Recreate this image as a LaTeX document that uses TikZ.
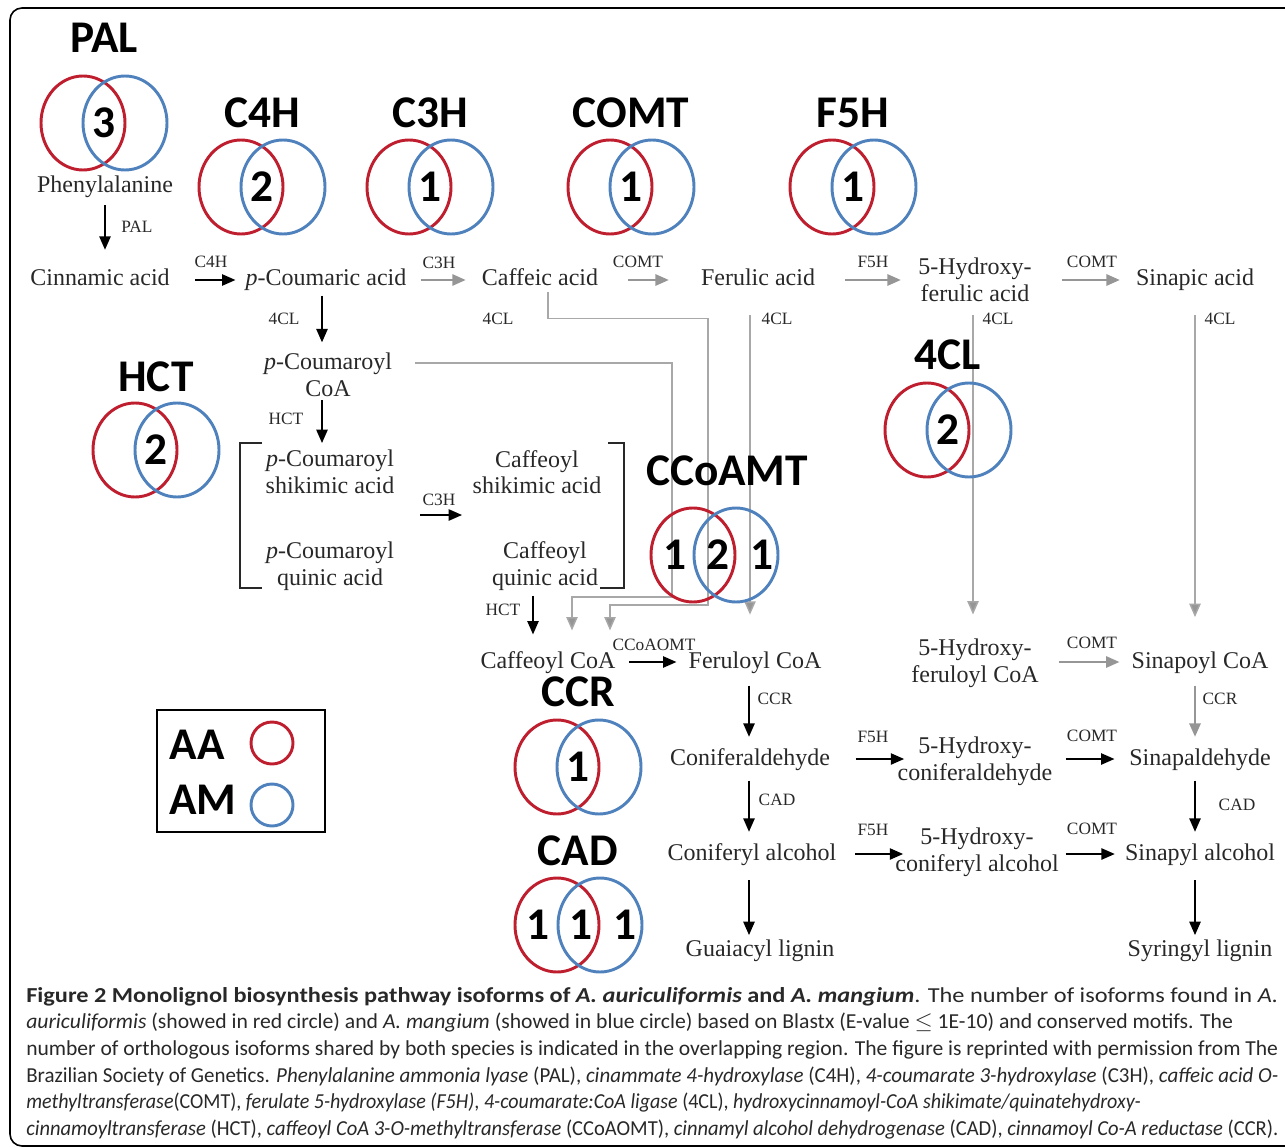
\documentclass[tikz,border=0pt]{standalone}
\usepackage{graphicx}
\usepackage{fontspec}
\setmainfont{Liberation Serif}
\newfontfamily\calfont{Carlito}
\usetikzlibrary{arrows.meta,positioning}

\definecolor{aared}{RGB}{190,30,45}
\definecolor{amblue}{RGB}{79,129,189}
\definecolor{linegray}{RGB}{168,168,168}
\definecolor{arrgray}{RGB}{150,150,150}
\definecolor{txtgray}{RGB}{40,40,40}

% one caption line squeezed to the width that it has in print
\newcommand{\capline}[2]{\resizebox{#1pt}{\height}{#2}}

\tikzset{
  met/.style={font=\fontsize{18}{20}\selectfont, text=txtgray, inner sep=0pt, text height=13pt, text depth=4pt},
  met2/.style={font=\fontsize{18}{20}\selectfont, text=txtgray, inner sep=0pt, align=center},
  enz/.style={font=\fontsize{13}{15}\selectfont, text=txtgray, inner sep=0pt},
  big/.style={font=\calfont\bfseries\fontsize{34}{36}\selectfont, inner sep=0pt},
  blk/.style={draw=black, line width=1.1pt, -{Triangle[length=10pt,width=8.5pt]}},
  garr/.style={draw=arrgray, line width=1.4pt, -{Triangle[length=10pt,width=8.5pt]}},
  gline/.style={draw=linegray, line width=1.1pt, -{Triangle[length=10pt,width=8.5pt,fill=arrgray]}},
  aacirc/.style={draw=aared, line width=2.2pt},
  amcirc/.style={draw=amblue, line width=2.2pt},
  caption/.style={font=\calfont\fontsize{16}{20}\selectfont, text=txtgray, inner sep=0pt, align=left}
}

\begin{document}
\begin{tikzpicture}[x=0.75pt,y=-0.75pt]
\useasboundingbox (0,0) rectangle (1285,1148);
\draw[line width=1.2pt, rounded corners=9] (10,8) rectangle (1300,1146);

% metabolites
\node[met] (phe) at (105,187) {Phenylalanine};
\node[met] (cinn) at (100,280) {Cinnamic acid};
\node[met] (pcoum) at (326,280) {\textit{p}-Coumaric acid};
\node[met] (caff) at (540,280) {Caffeic acid};
\node[met] (fer) at (758,280) {Ferulic acid};
\node[met2] (hfer) at (975,280) {5-Hydroxy-\\ferulic acid};
\node[met] (sinac) at (1195,280) {Sinapic acid};
\node[met2] (pcoa) at (328,375) {\textit{p}-Coumaroyl\\CoA};
\node[met2] (pshik) at (330,472) {\textit{p}-Coumaroyl\\shikimic acid};
\node[met2] (pquin) at (330,566) {\textit{p}-Coumaroyl\\quinic acid};
\node[met2] (cshik) at (537,472) {Caffeoyl\\shikimic acid};
\node[met2] (cquin) at (545,566) {Caffeoyl\\quinic acid};
\node[met] (caffcoa) at (548,662) {Caffeoyl CoA};
\node[met] (fercoa) at (755,662) {Feruloyl CoA};
\node[met2] (hfercoa) at (975,663) {5-Hydroxy-\\feruloyl CoA};
\node[met] (sincoa) at (1200,662) {Sinapoyl CoA};
\node[met] (conald) at (750,759) {Coniferaldehyde};
\node[met2] (hconald) at (975,761) {5-Hydroxy-\\coniferaldehyde};
\node[met] (sinald) at (1200,759) {Sinapaldehyde};
\node[met] (conalc) at (752,854) {Coniferyl alcohol};
\node[met2] (hconalc) at (977,852) {5-Hydroxy-\\coniferyl alcohol};
\node[met] (sinalc) at (1200,854) {Sinapyl alcohol};
\node[met] (guai) at (760,950) {Guaiacyl lignin};
\node[met] (syr) at (1200,950) {Syringyl lignin};

% enzyme labels on the arrows
\foreach \t/\x/\y [count=\i] in {PAL/137/227, C4H/211/262, C3H/439/263, COMT/638/262,
    F5H/873/262, COMT/1092/262, 4CL/284/319, 4CL/498/319, 4CL/777/319, 4CL/998/319,
    4CL/1220/319, HCT/286/419, C3H/439/500, HCT/503/610, CCoAOMT/654/645, COMT/1092/643,
    CCR/775/699, CCR/1220/699, F5H/873/737, COMT/1092/736, CAD/777/800, CAD/1237/805,
    F5H/873/830, COMT/1092/829}
  \node[enz] (enz\i) at (\x,\y) {\t};

% top row
\draw[blk, shorten <=5pt, shorten >=14pt] (phe.south) -- (phe.south |- cinn.north);
\draw[blk] ([xshift=19pt]cinn.east) -- ([xshift=-7.5pt]pcoum.west |- cinn.east);
\draw[garr] ([xshift=10.5pt]pcoum.east) -- ([xshift=-12pt]caff.west |- pcoum.east);
\draw[garr] ([xshift=22.5pt]caff.east) -- ([xshift=-24pt]fer.west |- caff.east);
\draw[garr] ([xshift=22.5pt]fer.east) -- ([xshift=-13pt]hfer.west |- fer.east);
\draw[garr] ([xshift=22.5pt]hfer.east |- sinac.west) -- ([xshift=-12pt]sinac.west);

% p-coumaric acid branch
\draw[blk, shorten <=3pt, shorten >=8pt] ([xshift=-3pt]pcoum.south) -- ([xshift=-3pt]pcoum.south |- pcoa.north);
\coordinate (brL) at (262,443);
\coordinate (brR) at (608,443);
\draw[blk, shorten <=2.5pt] ([xshift=-4.5pt]pcoa.south) -- ([xshift=-4.5pt]pcoa.south |- brL);
\draw[line width=1pt, txtgray] (brL) -- (240,443) -- (240,588) -- (262,588);
\draw[line width=1pt, txtgray] (brR) -- (624,443) -- (624,588) -- (600,588);
\coordinate (c3hA) at (420,515);
\coordinate (c3hB) at (462,515);
\draw[blk] (c3hA) -- (c3hB);
\draw[blk, shorten <=4pt, shorten >=12pt] ([xshift=-9pt]cquin.south) -- ([xshift=-9pt]cquin.south |- caffcoa.north);

% 4CL lines into the CoA esters
\draw[gline] ([xshift=17pt,yshift=9pt]pcoa.east) -| (672,597) -| ([xshift=18pt,yshift=15pt]caffcoa.north);
\draw[gline] ([xshift=6pt]caff.south) -- ++(0,27) -| (708,605) -| ([xshift=46.5pt,yshift=15pt]caffcoa.north);
\draw[gline, shorten <=17.8pt, shorten >=26.8pt] ([xshift=-6pt]fer.south) -- ([xshift=-6pt]fer.south |- fercoa.north);
\draw[gline, shorten <=9.7pt, shorten >=18pt] ([xshift=-1.5pt]hfer.south) -- ([xshift=-1.5pt]hfer.south |- hfercoa.north);
\draw[gline, shorten <=17.8pt, shorten >=25pt] (sinac.south) -- (sinac.south |- sincoa.north);

% CoA esters to lignin
\draw[blk] ([xshift=10pt]caffcoa.east) -- ([xshift=-9pt]fercoa.west |- caffcoa.east);
\draw[garr] ([xshift=15pt]hfercoa.east |- sincoa.west) -- ([xshift=-9pt]sincoa.west);
\draw[blk, shorten <=9pt, shorten >=8pt] ([xshift=-4.5pt]fercoa.south) -- ([xshift=-4.5pt]fercoa.south |- conald.north);
\draw[garr, shorten <=9pt, shorten >=8pt] ([xshift=-3.75pt]sincoa.south) -- ([xshift=-3.75pt]sincoa.south |- sinald.north);
\draw[blk] ([xshift=19pt]conald.east) -- ([xshift=5pt]hconald.west |- conald.east);
\draw[blk] ([xshift=10pt]hconald.east |- conald.east) -- ([xshift=-11pt]sinald.west);
\draw[blk, shorten <=7.5pt, shorten >=8pt] ([xshift=-0.75pt]conald.south) -- ([xshift=-0.75pt]conald.south |- conalc.north);
\draw[blk, shorten <=7.5pt, shorten >=8pt] ([xshift=-3.75pt]sinald.south) -- ([xshift=-3.75pt]sinald.south |- sinalc.north);
\draw[blk] ([xshift=14pt]conalc.east) -- ([xshift=6pt]hconalc.west |- conalc.east);
\draw[blk] ([xshift=5pt]hconalc.east |- conalc.east) -- ([xshift=-7.5pt]sinalc.west);
\draw[blk, shorten <=11pt, shorten >=2.5pt] ([xshift=-2.25pt]conalc.south) -- ([xshift=-2.25pt]conalc.south |- guai.north);
\draw[blk, shorten <=11pt, shorten >=2.5pt] ([xshift=-3.75pt]sinalc.south) -- ([xshift=-3.75pt]sinalc.south |- syr.north);

% isoform counts
\foreach \nm/\vx/\vy/\ly/\n in {PAL/104/123/38/3, C4H/262/187/113/2, C3H/430/187/113/1,
    COMT/631/187/113/1, F5H/853/187/113/1, HCT/156/450/377/2, 4CL/948/430/355/2, CCR/578/767/692/1}{
  \draw[aacirc] ({\vx-21},\vy) ellipse [x radius=42, y radius=47];
  \draw[amcirc] ({\vx+21},\vy) ellipse [x radius=42, y radius=47];
  \node[big] (lbl\nm) at (\vx,\ly) {\nm};
  \node[big] (num\nm) at (\vx,\vy) {\n};
}
\draw[aacirc] (693,555) ellipse [x radius=42, y radius=47];
\draw[amcirc] (736,555) ellipse [x radius=42, y radius=47];
\node[big] (lblCCoAMT) at (727,471) {CCoAMT};
\node[big] (ccoaL) at (675,555) {1};
\node[big] (ccoaM) at (718,555) {2};
\node[big] (ccoaR) at (762,555) {1};
\draw[aacirc] (557,925) ellipse [x radius=42, y radius=47];
\draw[amcirc] (600,925) ellipse [x radius=42, y radius=47];
\node[big] (lblCAD) at (578,851) {CAD};
\node[big] (cadL) at (538,925) {1};
\node[big] (cadM) at (581,925) {1};
\node[big] (cadR) at (625,925) {1};

% legend
\draw[line width=1.1pt] (157,710) rectangle (325,832);
\node[big] (legAA) at (197,745) {AA};
\node[big] (legAM) at (203,800) {AM};
\draw[aacirc] (272,743) circle [radius=21];
\draw[amcirc] (272,805) circle [radius=21];

% caption
\node[caption, anchor=north west] (capt) at (26,987) {%
\capline{939}{\textbf{Figure 2 Monolignol biosynthesis pathway isoforms of \textit{A. auriculiformis} and \textit{A. mangium}}. The number of isoforms found in \textit{A.}}\\
\capline{905}{\textit{auriculiformis} (showed in red circle) and \textit{A. mangium} (showed in blue circle) based on Blastx (E-value $\leq$ 1E-10) and conserved motifs. The}\\
\capline{939}{number of orthologous isoforms shared by both species is indicated in the overlapping region. The figure is reprinted with permission from The}\\
\capline{939}{Brazilian Society of Genetics. \textit{Phenylalanine ammonia lyase} (PAL), \textit{cinammate 4-hydroxylase} (C4H), \textit{4-coumarate 3-hydroxylase} (C3H), \textit{caffeic acid O-}}\\
\capline{836}{\textit{methyltransferase}(COMT), \textit{ferulate 5-hydroxylase (F5H)}, \textit{4-coumarate:CoA ligase} (4CL), \textit{hydroxycinnamoyl-CoA shikimate/quinatehydroxy-}}\\
\capline{939}{\textit{cinnamoyltransferase} (HCT), \textit{caffeoyl CoA 3-O-methyltransferase} (CCoAOMT), \textit{cinnamyl alcohol dehydrogenase} (CAD), \textit{cinnamoyl Co-A reductase} (CCR).}};
\end{tikzpicture}
\end{document}
